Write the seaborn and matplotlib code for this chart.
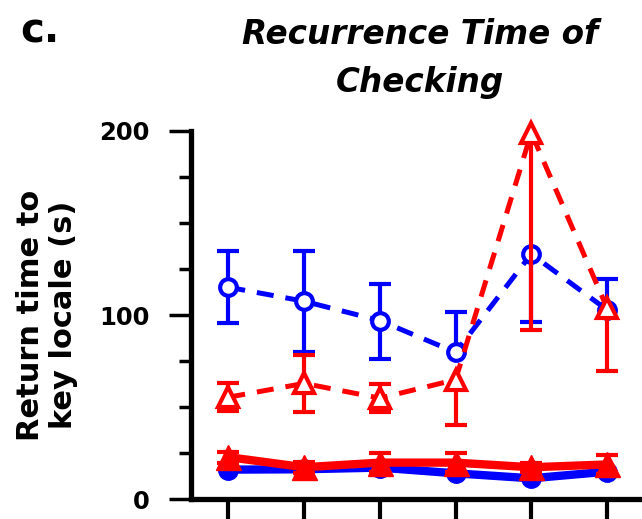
import numpy as np
import pandas as pd
import matplotlib
matplotlib.use("Agg")
import matplotlib.pyplot as plt
from matplotlib.ticker import MultipleLocator
import seaborn as sns

# ---- data ----
sessions = [1, 2, 3, 4, 5, 6]

blue_open_mean = [115.2, 107.6, 97.1, 79.9, 133.2, 102.9]
blue_open_up = [19.8, 27.4, 20.0, 21.7, np.nan, 16.8]
blue_open_lo = [19.2, 27.7, 20.7, np.nan, 36.6, np.nan]

red_open_mean = [55.5, 63.0, 55.0, 65.0, 199.0, 104.0]
red_open_up = [7.7, 15.4, 7.5, np.nan, np.nan, np.nan]
red_open_lo = [7.7, 15.4, 7.5, 24.4, 107.0, 34.4]

blue_fill_mean = [16.2, 16.4, 17.3, 14.2, 11.5, 15.1]

red_fill_mean = [23.0, 17.5, 20.0, 20.0, 17.5, 19.0]
red_fill_err = [3.0, 3.0, 5.0, 5.0, 2.5, 5.0]

yticks_major = [0, 100, 200]
title_text = "Recurrence Time of\nChecking"
ylabel_text = "Return time to\nkey locale (s)"
panel_label = "c."

BLUE = "#0000ff"
RED = "#ff0000"

sns.set_style("ticks")
plt.rcParams["font.family"] = ["DejaVu Sans"]
for k in ["text.color", "axes.labelcolor", "xtick.color", "ytick.color", "axes.edgecolor"]:
    plt.rcParams[k] = "black"

fig = plt.figure(figsize=(6.42, 5.19), dpi=100)
ax = fig.add_axes([0.2975, 0.0376, 0.7075, 0.71])

err_kw = dict(fmt="none", elinewidth=3, capsize=8, capthick=3)


def one_sided_errorbar(x, mean, lo, up, color, z):
    lo_arr = np.asarray(lo, dtype=float)
    up_arr = np.asarray(up, dtype=float)
    cont = ax.errorbar(x, mean, yerr=[np.nan_to_num(lo_arr), np.nan_to_num(up_arr)],
                       ecolor=color, zorder=z, **err_kw)
    m = np.asarray(mean, dtype=float)
    for cap in cont[1]:
        yd = np.asarray(cap.get_ydata(), dtype=float)
        yd = np.where(np.isclose(yd, m), np.nan, yd)
        cap.set_ydata(yd)
    return cont


# blue filled (solid)
sns.lineplot(x=sessions, y=blue_fill_mean, ax=ax, color=BLUE, lw=6,
             marker="o", markersize=14, markerfacecolor=BLUE,
             markeredgecolor=BLUE, markeredgewidth=1, clip_on=False, zorder=3)

# red filled (solid)
one_sided_errorbar(sessions, red_fill_mean, red_fill_err, red_fill_err, RED, 4)
sns.lineplot(x=sessions, y=red_fill_mean, ax=ax, color=RED, lw=6,
             marker="^", markersize=18, markerfacecolor=RED,
             markeredgecolor=RED, markeredgewidth=1, clip_on=False, zorder=5)

# blue open (dashed)
one_sided_errorbar(sessions, blue_open_mean, blue_open_lo, blue_open_up, BLUE, 6)
sns.lineplot(x=sessions, y=blue_open_mean, ax=ax, color=BLUE, lw=3.6,
             dashes=(3.4, 2.4), marker="o", markersize=12,
             markerfacecolor="white", markeredgecolor=BLUE,
             markeredgewidth=3, clip_on=False, zorder=7)

# red open (dashed)
one_sided_errorbar(sessions, red_open_mean, red_open_lo, red_open_up, RED, 8)
sns.lineplot(x=sessions, y=red_open_mean, ax=ax, color=RED, lw=3.6,
             dashes=(3.4, 2.4), marker="^", markersize=14,
             markerfacecolor="white", markeredgecolor=RED,
             markeredgewidth=3, clip_on=False, zorder=9)

# axes styling
ax.set_xlim(0.507, 6.504)
ax.set_ylim(0, 200)
ax.set_xticks(sessions)
ax.set_xticklabels([])
ax.set_yticks(yticks_major)
ax.set_yticklabels([str(v) for v in yticks_major], fontsize=17.5, fontweight="bold")
ax.yaxis.set_minor_locator(MultipleLocator(25))
ax.tick_params(axis="y", which="major", length=16, width=2.5, pad=14, color="black")
ax.tick_params(axis="y", which="minor", length=8.5, width=2.5, color="black")
ax.tick_params(axis="x", which="major", length=20, width=3, color="black")
for s in ["top", "right"]:
    ax.spines[s].set_visible(False)
for s in ["left", "bottom"]:
    ax.spines[s].set_linewidth(3.8)
    ax.spines[s].set_color("black")
ax.set_xlabel("")
ax.set_ylabel(ylabel_text, fontsize=22, fontweight="bold", linespacing=1.2)
ax.yaxis.set_label_coords(-0.248, 0.5)

fig.text(0.654, 0.8233, title_text, ha="center", va="baseline",
         fontsize=23.5, fontweight="bold", fontstyle="italic", linespacing=1.55)
fig.text(0.031, 0.919, panel_label, ha="left", va="baseline",
         fontsize=29, fontweight="bold")

fig.savefig("out.png", dpi=100)
